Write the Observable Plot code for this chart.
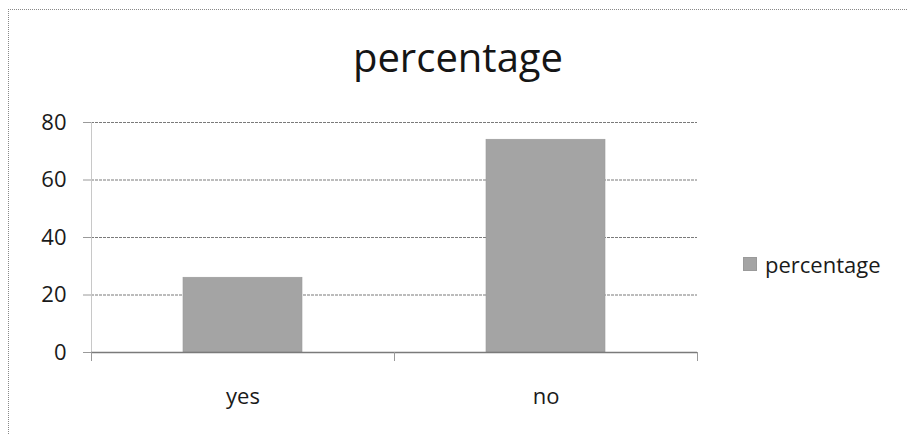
<!DOCTYPE html>
<html>
<head>
<meta charset="utf-8">
<script src="https://cdn.jsdelivr.net/npm/d3@7"></script>
<script src="https://cdn.jsdelivr.net/npm/@observablehq/plot@0.6"></script>
<style>
  html, body { margin: 0; padding: 0; background: #fff; }
  #wrap { position: relative; width: 907px; height: 435px; overflow: hidden; font-family: "Open Sans", sans-serif; color: #1a1a1a; }
  #chart { position: absolute; left: 0; top: 0; }
  #title { position: absolute; left: 0; width: 916px; top: 29px; text-align: center; font-size: 40px; line-height: 56px; color: #151515; font-weight: 500; }
  #border { position: absolute; left: 8px; top: 9px; width: 920px; height: 440px; border-left: 1px dotted #888; border-top: 1px dotted #888; }
  #legend { position: absolute; left: 743px; top: 249px; font-size: 22px; line-height: 30px; display: flex; align-items: center; }
  #legend .sw { width: 14px; height: 14px; margin-right: 8px; }
</style>
</head>
<body>
<div id="wrap">
  <div id="border"></div>
  <div id="chart"></div>
  <div id="title"></div>
</div>
<script>
const categories = ["yes", "no"];
const values = [26, 74];
const yTicks = [0, 20, 40, 60, 80];
const seriesName = "percentage";
const chartTitle = "percentage";

const barColor = "#a4a4a4";
const data = categories.map((c, i) => ({category: c, value: values[i]}));

const bandStep = (697 - 91) / categories.length;

const plot = Plot.plot({
  width: 907,
  height: 435,
  marginLeft: 91,
  marginRight: 210,
  marginTop: 122,
  marginBottom: 83,
  style: {fontFamily: "'Open Sans', sans-serif", background: "transparent", color: "#1a1a1a", overflow: "visible"},
  x: {domain: categories, paddingInner: 0.607, paddingOuter: 0.3035, label: null},
  y: {domain: [0, 80], label: null},
  marks: [
    Plot.gridY(yTicks, {stroke: "#7a7a7a", strokeOpacity: 1, strokeWidth: 1.2, strokeDasharray: "3,1"}),
    Plot.frame({anchor: "left", stroke: "#c8c8c8", strokeDasharray: "1,1"}),
    Plot.axisY({ticks: yTicks, tickSize: 8, tickPadding: 17, fontSize: 22, stroke: "#9a9a9a", fill: "#1a1a1a", label: null}),
    Plot.barY(data, {x: "category", y: "value", fill: barColor, stroke: "#9a9a9a", strokeWidth: 0.6}),
    Plot.ruleY([0], {stroke: "#7a7a7a", strokeWidth: 1.3}),
    Plot.ruleX(categories, {x: d => d, y1: 0, y2: 0, insetBottom: -9, dx: -bandStep / 2, stroke: "#999"}),
    Plot.ruleX(categories.slice(-1), {x: d => d, y1: 0, y2: 0, insetBottom: -9, dx: bandStep / 2, stroke: "#999"}),
    Plot.axisX({tickSize: 0, tickPadding: 36, fontSize: 22, fill: "#1a1a1a", label: null})
  ]
});
document.getElementById("chart").appendChild(plot);

document.getElementById("title").textContent = chartTitle;

const legend = document.createElement("div");
legend.id = "legend";
const sw = document.createElement("span");
sw.className = "sw";
sw.style.background = barColor;
sw.style.border = "1px solid #9a9a9a";
sw.style.boxSizing = "border-box";
const lt = document.createElement("span");
lt.textContent = seriesName;
legend.appendChild(sw);
legend.appendChild(lt);
document.getElementById("wrap").appendChild(legend);
</script>
</body>
</html>
